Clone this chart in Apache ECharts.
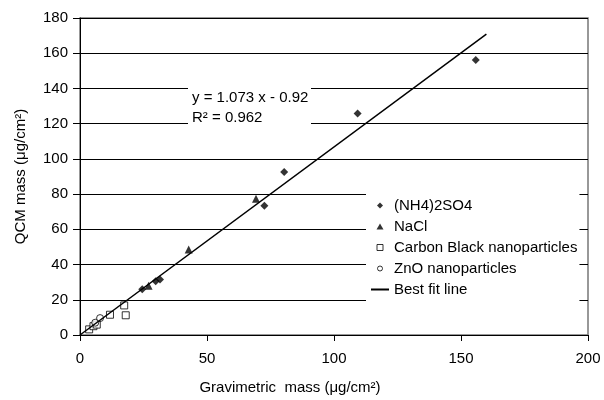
<!DOCTYPE html>
<html>
<head>
<meta charset="utf-8">
<script src="https://cdn.jsdelivr.net/npm/echarts@6/dist/echarts.min.js"></script>
<style>
  html, body { margin: 0; padding: 0; background: #fff; }
  #chart { width: 604px; height: 400px; }
</style>
</head>
<body>
<div id="chart"></div>
<script>
// gravimetric vs QCM mass (µg/cm²)
const ammoniumSulfate = [[24.5, 26], [29.8, 30.5], [31.5, 31.5], [72.6, 73.4], [80.4, 92.6], [109.3, 125.8], [155.8, 156.1]];
const sodiumChloride = [[27, 28], [42.8, 48.5], [69.3, 77.4]];
const carbonBlack = [[3.6, 3.2], [5.3, 5], [6.6, 5.9], [11.8, 11.5], [17.4, 16.8], [18, 11.2]];
const zincOxide = [[6, 7], [7.9, 9.6]];
const fitLine = [[0, 0], [160, 170.8]];

const seriesNames = ['(NH4)2SO4', 'NaCl', 'Carbon Black nanoparticles', 'ZnO nanoparticles', 'Best fit line'];
const fitLabel = ['y = 1.073 x - 0.92', 'R² = 0.962'];

const FONT = '"Liberation Sans", Arial, sans-serif';

// legend icons get stretched to itemWidth x itemHeight (18x6), so pad the
// shapes with bare moveTo points at both ends to keep them undistorted
const ICON_DIAMOND = 'path://M0,3M6,3L9,0L12,3L9,6ZM18,3';
const ICON_TRIANGLE = 'path://M0,3M5.5,6L9,0L12.5,6ZM18,3';
const ICON_SQUARE = 'path://M0,3M6,0L12,0L12,6L6,6ZM18,3';
const ICON_CIRCLE = 'path://M0,3M6.5,3A2.5,2.5,0,1,1,11.5,3A2.5,2.5,0,1,1,6.5,3ZM18,3';

const chart = echarts.init(document.getElementById('chart'), null, {renderer: 'canvas'});

const open = {color: '#fff', borderColor: '#000', borderWidth: 1};
const hidden = {color: 'rgba(0,0,0,0)', borderWidth: 0, opacity: 0};

chart.setOption({
    animation: false,
    textStyle: {fontFamily: FONT, color: '#000'},
    grid: {left: 80, right: 16, top: 18, bottom: 61, show: true, borderWidth: 1.5, borderColor: '#777', z: 5},
    xAxis: {
        type: 'value', min: 0, max: 200, interval: 50,
        name: 'Gravimetric  mass (μg/cm²)',
        nameLocation: 'middle', nameGap: 45,
        nameTextStyle: {fontSize: 15, color: '#000', padding: [0, 88, 0, 0]},
        axisLine: {lineStyle: {color: '#000'}},
        axisTick: {show: true, length: 6, lineStyle: {color: '#000'}},
        axisLabel: {fontSize: 15, color: '#000', margin: 16},
        splitLine: {show: false},
        z: 6
    },
    yAxis: {
        type: 'value', min: 0, max: 180, interval: 20,
        name: 'QCM mass (μg/cm²)',
        nameLocation: 'middle', nameGap: 52,
        nameTextStyle: {fontSize: 15, color: '#000'},
        axisLine: {show: true, lineStyle: {color: '#000'}},
        axisTick: {show: true, length: 7, lineStyle: {color: '#000'}},
        axisLabel: {fontSize: 15, color: '#000', margin: 12},
        splitLine: {show: true, lineStyle: {color: '#000', width: 1}},
        z: 6
    },
    legend: {
        orient: 'vertical',
        left: 366, top: 190,
        backgroundColor: '#fff',
        padding: [8, 2, 6, 4],
        itemWidth: 18, itemHeight: 6, itemGap: 6,
        z: 8,
        textStyle: {fontSize: 15, color: '#000', lineHeight: 14},
        data: [
            {name: seriesNames[0], icon: ICON_DIAMOND, itemStyle: {color: '#000', borderWidth: 0}},
            {name: seriesNames[1], icon: ICON_TRIANGLE, itemStyle: {color: '#000', borderWidth: 0}},
            {name: seriesNames[2], icon: ICON_SQUARE, itemStyle: open},
            {name: seriesNames[3], icon: ICON_CIRCLE, itemStyle: open},
            {name: seriesNames[4], itemStyle: hidden, lineStyle: {color: '#000', width: 2}}
        ]
    },
    graphic: [
        {
            type: 'rect', z: 7,
            shape: {x: 188, y: 82, width: 123, height: 48},
            style: {fill: '#fff'}
        },
        {
            type: 'text', z: 8, left: 192, top: 90,
            style: {text: fitLabel[0], font: '15px ' + FONT, fill: '#000'}
        },
        {
            type: 'text', z: 8, left: 192, top: 110,
            style: {text: fitLabel[1], font: '15px ' + FONT, fill: '#000'}
        }
    ],
    series: [
        {
            name: seriesNames[0], type: 'scatter', data: ammoniumSulfate, z: 9,
            symbol: 'diamond', symbolSize: 8, itemStyle: {color: '#000'}
        },
        {
            name: seriesNames[1], type: 'scatter', data: sodiumChloride, z: 9,
            symbol: 'triangle', symbolSize: 8, itemStyle: {color: '#000'}
        },
        {
            name: seriesNames[2], type: 'scatter', data: carbonBlack, z: 9,
            symbol: 'rect', symbolSize: 7, itemStyle: open
        },
        {
            name: seriesNames[3], type: 'scatter', data: zincOxide, z: 9,
            symbol: 'circle', symbolSize: 7, itemStyle: open
        },
        {
            name: seriesNames[4], type: 'line', data: fitLine, z: 10,
            symbol: 'none',
            lineStyle: {color: '#000', width: 1.5}, itemStyle: {color: '#000'}
        }
    ]
});
</script>
</body>
</html>
